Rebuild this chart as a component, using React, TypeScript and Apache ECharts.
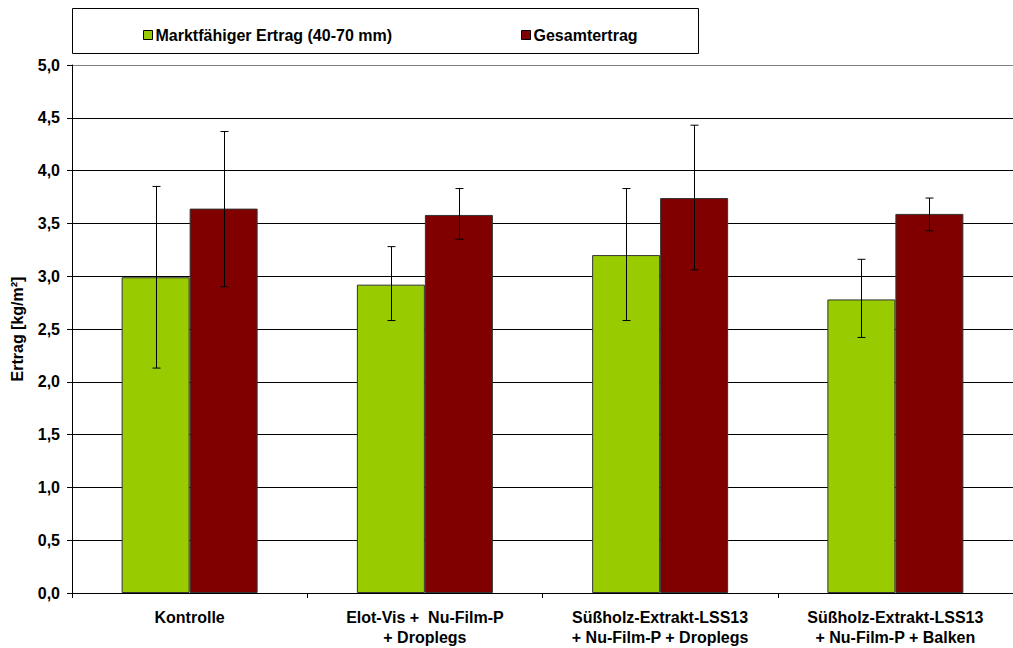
import React, { useEffect, useRef } from "react";
import * as echarts from "echarts";

const categories = [
  "Kontrolle",
  "Elot-Vis +  Nu-Film-P\n+ Droplegs",
  "Süßholz-Extrakt-LSS13\n+ Nu-Film-P + Droplegs",
  "Süßholz-Extrakt-LSS13\n+ Nu-Film-P + Balken",
];
const seriesNames = ["Marktfähiger Ertrag (40-70 mm)", "Gesamtertrag"];
const marktValues = [2.99, 2.92, 3.2, 2.78];
const marktLow = [2.13, 2.58, 2.58, 2.42];
const marktHigh = [3.85, 3.28, 3.83, 3.16];
const gesamtValues = [3.64, 3.58, 3.74, 3.59];
const gesamtLow = [2.9, 3.35, 3.06, 3.43];
const gesamtHigh = [4.37, 3.83, 4.43, 3.74];
const yTicks = { min: 0, max: 5, interval: 0.5 };

const FONT = "'Liberation Sans', Arial, sans-serif";
const BAR_W = 68;

function errorSeries(low: number[], high: number[], offset: number) {
  return {
    type: "custom",
    silent: true,
    z: 10,
    data: low.map((l, i) => [i, l, high[i]]),
    encode: { x: 0, y: [1, 2] },
    renderItem: (params: any, api: any) => {
      const c = api.value(0);
      const lo = api.coord([c, api.value(1)]);
      const hi = api.coord([c, api.value(2)]);
      const x = Math.round(lo[0] + offset) + 0.5;
      const cap = 4;
      const style = { stroke: "#000", lineWidth: 1 };
      return {
        type: "group",
        children: [
          { type: "line", shape: { x1: x, y1: hi[1], x2: x, y2: lo[1] }, style },
          { type: "line", shape: { x1: x - cap, y1: hi[1], x2: x + cap, y2: hi[1] }, style },
          { type: "line", shape: { x1: x - cap, y1: lo[1], x2: x + cap, y2: lo[1] }, style },
        ],
      };
    },
  };
}

export default function App() {
  const ref = useRef<HTMLDivElement>(null);
  useEffect(() => {
    if (!ref.current) return;
    const chart = echarts.init(ref.current, null, { renderer: "svg" });
    const splitColors = Array.from({ length: 11 }, (_, i) => (i === 10 ? "#808080" : "#000"));
    chart.setOption({
      animation: false,
      backgroundColor: "#fff",
      textStyle: { fontFamily: FONT },
      graphic: [
        {
          type: "rect",
          shape: { x: 72.5, y: 8.5, width: 626, height: 45 },
          style: { fill: "#fff", stroke: "#000", lineWidth: 1 },
          z: 0,
        },
      ],
      legend: {
        left: 138,
        top: 22,
        itemGap: 129,
        itemWidth: 9,
        itemHeight: 9,
        icon: "rect",
        itemStyle: { borderColor: "#000", borderWidth: 1 },
        textStyle: { fontFamily: FONT, fontWeight: "bold", fontSize: 16, color: "#000", padding: [0, 0, 0, -2] },
        data: seriesNames,
        z: 5,
      },
      grid: { left: 72, top: 65, width: 952, height: 528, containLabel: false },
      xAxis: {
        type: "category",
        data: categories,
        axisLine: { lineStyle: { color: "#000", width: 1 } },
        axisTick: { show: true, length: 5, lineStyle: { color: "#000" }, alignWithLabel: false },
        axisLabel: {
          interval: 0,
          margin: 14,
          fontFamily: FONT,
          fontWeight: "bold",
          fontSize: 16,
          lineHeight: 20,
          color: "#000",
        },
      },
      yAxis: {
        type: "value",
        min: yTicks.min,
        max: yTicks.max,
        interval: yTicks.interval,
        name: "Ertrag [kg/m²]",
        nameLocation: "middle",
        nameGap: 47,
        nameTextStyle: { fontFamily: FONT, fontWeight: "bold", fontSize: 16, color: "#000" },
        axisLine: { show: true, lineStyle: { color: "#000", width: 1 } },
        axisTick: { show: true, length: 5, inside: false, lineStyle: { color: "#000" } },
        axisLabel: {
          margin: 12,
          fontFamily: FONT,
          fontWeight: "bold",
          fontSize: 16,
          color: "#000",
          formatter: (v: number) => v.toFixed(1).replace(".", ","),
        },
        splitLine: { show: true, lineStyle: { color: splitColors, width: 1 } },
      },
      series: [
        {
          name: seriesNames[0],
          type: "bar",
          data: marktValues,
          barWidth: BAR_W,
          barGap: "0%",
          itemStyle: { color: "#99CC00", borderColor: "#333", borderWidth: 1 },
        },
        {
          name: seriesNames[1],
          type: "bar",
          data: gesamtValues,
          barWidth: BAR_W,
          barGap: "0%",
          itemStyle: { color: "#800000", borderColor: "#333", borderWidth: 1 },
        },
        errorSeries(marktLow, marktHigh, -BAR_W / 2),
        errorSeries(gesamtLow, gesamtHigh, BAR_W / 2),
      ],
    });
    return () => chart.dispose();
  }, []);
  return (
    <div
      ref={ref}
      style={{ position: "absolute", left: 0, top: 0, width: 1013, height: 648 }}
    />
  );
}
